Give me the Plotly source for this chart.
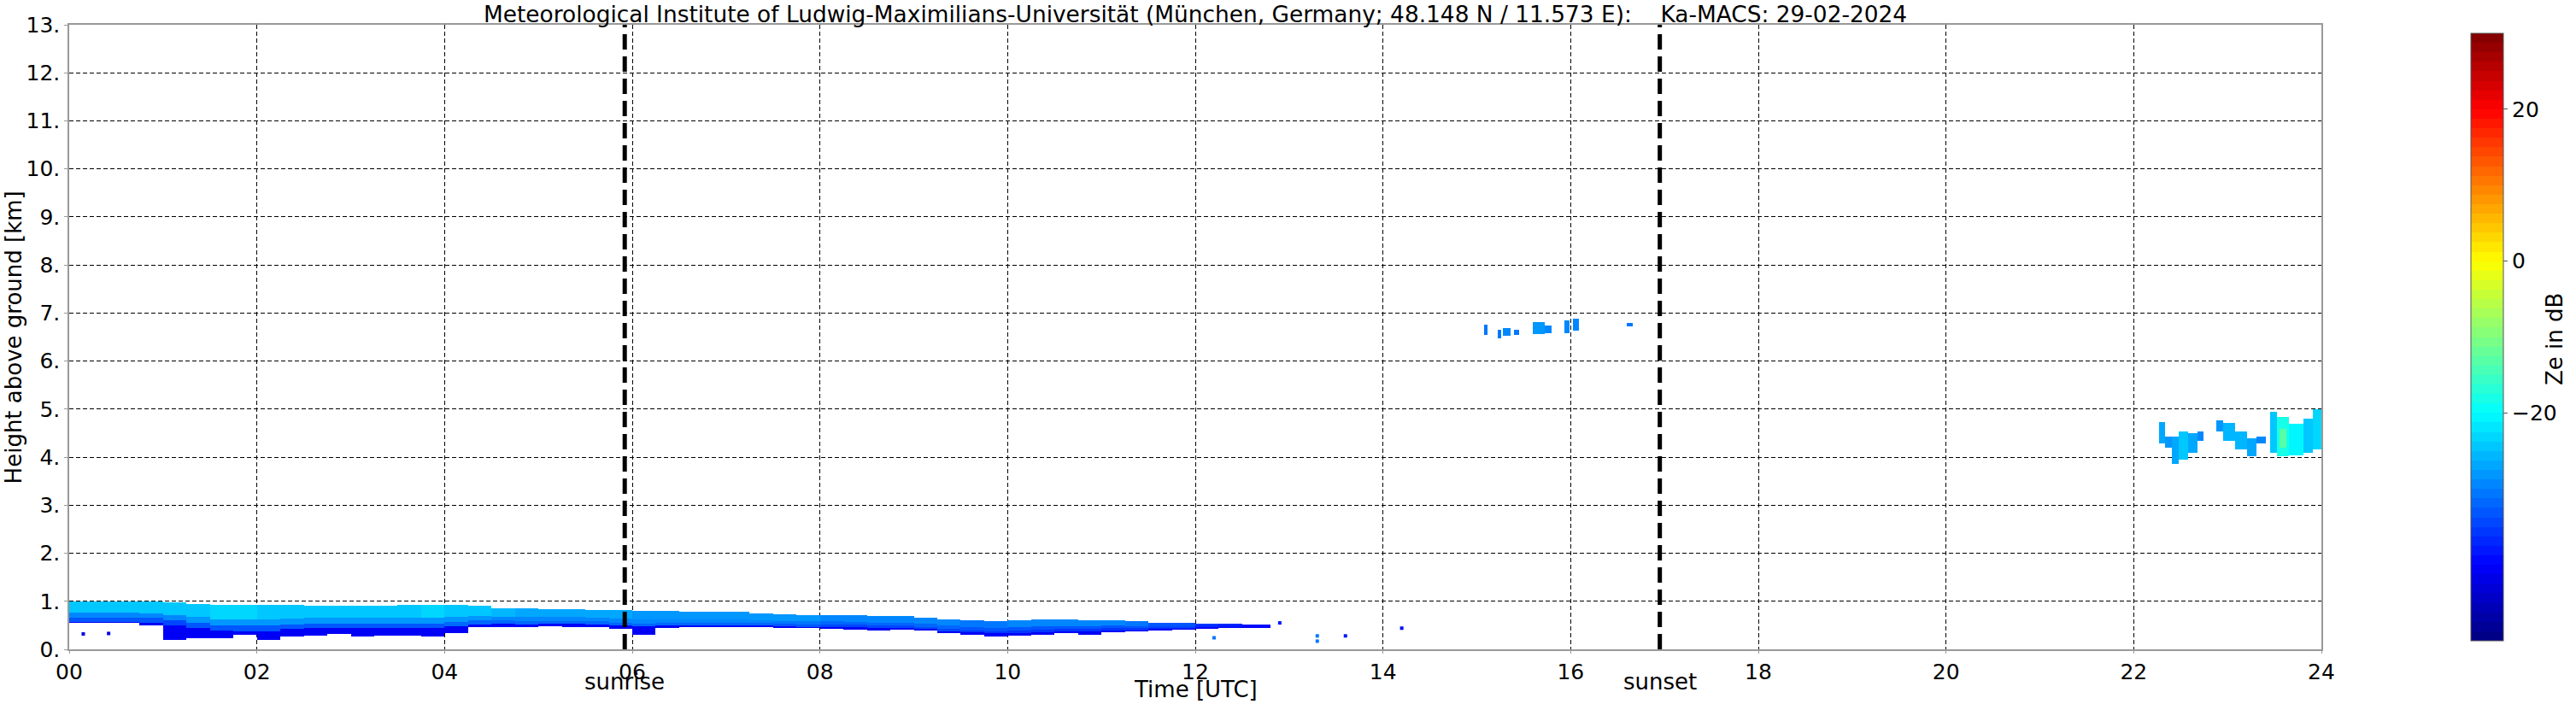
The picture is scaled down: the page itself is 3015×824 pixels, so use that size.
import numpy as np
import plotly.graph_objects as go

# ---------------- data ----------------
# Low stratus layer, one value per 15-min column (column edges in hours UTC)
lc_time = [0.0, 0.25, 0.5, 0.75, 1.0, 1.25, 1.5, 1.75, 2.0, 2.25, 2.5, 2.75,
           3.0, 3.25, 3.5, 3.75, 4.0, 4.25, 4.5, 4.75, 5.0, 5.25, 5.5, 5.75,
           6.0, 6.25, 6.5, 6.75, 7.0, 7.25, 7.5, 7.75, 8.0, 8.25, 8.5, 8.75,
           9.0, 9.25, 9.5, 9.75, 10.0, 10.25, 10.5, 10.75, 11.0, 11.25, 11.5, 11.75,
           12.0, 12.25, 12.5, 12.8]
lc_top = [0.99, 0.99, 0.99, 0.99, 0.98, 0.95, 0.92, 0.92, 0.92, 0.92, 0.91, 0.90,
          0.90, 0.91, 0.92, 0.92, 0.93, 0.90, 0.86, 0.85, 0.84, 0.84, 0.82, 0.81,
          0.80, 0.80, 0.79, 0.79, 0.78, 0.75, 0.73, 0.72, 0.72, 0.71, 0.70, 0.69,
          0.66, 0.63, 0.60, 0.59, 0.61, 0.62, 0.62, 0.61, 0.60, 0.58, 0.56, 0.55,
          0.54, 0.53, 0.52]
lc_base = [0.57, 0.57, 0.57, 0.56, 0.50, 0.45, 0.40, 0.38, 0.38, 0.42, 0.44, 0.44,
           0.45, 0.45, 0.44, 0.45, 0.48, 0.52, 0.53, 0.52, 0.53, 0.53, 0.52, 0.50,
           0.48, 0.50, 0.50, 0.50, 0.50, 0.50, 0.48, 0.47, 0.47, 0.46, 0.45, 0.44,
           0.42, 0.38, 0.35, 0.33, 0.34, 0.36, 0.37, 0.38, 0.40, 0.40, 0.42, 0.43,
           0.44, 0.45, 0.46]
lc_virga = [0.55, 0.55, 0.55, 0.50, 0.20, 0.24, 0.24, 0.30, 0.20, 0.26, 0.29, 0.32,
            0.26, 0.29, 0.28, 0.26, 0.34, 0.46, 0.47, 0.46, 0.48, 0.47, 0.47, 0.42,
            0.30, 0.45, 0.46, 0.46, 0.47, 0.47, 0.45, 0.44, 0.43, 0.41, 0.39, 0.41,
            0.39, 0.34, 0.30, 0.27, 0.28, 0.31, 0.33, 0.31, 0.36, 0.37, 0.39, 0.41,
            0.43, 0.44, 0.45]
lc_ze_top = [-25, -25, -25, -25, -25, -24, -23, -23, -24, -24, -24, -24,
             -24, -24, -24, -23, -24, -25, -26, -27, -27, -27, -27, -27,
             -28, -28, -28, -28, -28, -28, -28, -28, -29, -29, -29, -29,
             -30, -30, -31, -31, -30, -30, -30, -30, -30, -31, -33, -33,
             -36, -37, -39]
lc_ze_base = [-33, -33, -33, -33, -34, -33, -33, -33, -33, -33, -33, -33,
              -33, -33, -33, -33, -32, -32, -32, -32, -32, -32, -32, -32,
              -32, -32, -32, -32, -32, -32, -33, -33, -35, -35, -35, -35,
              -35, -35, -36, -36, -36, -36, -36, -36, -36, -36, -37, -37,
              -39, -39, -40]
lc_ze_virga = -41

# Mid/upper cloud patches: start, end (h), bottom, top (km), Ze (dB)
patch_t0 = [15.08, 15.22, 15.28, 15.40, 15.60, 15.72, 15.93, 16.02, 16.60,
            22.27, 22.33, 22.40, 22.48, 22.58, 22.68,
            22.88, 22.95, 23.08, 23.20, 23.30,
            23.45, 23.52, 23.65, 23.80, 23.90, 23.55]
patch_t1 = [15.11, 15.26, 15.36, 15.45, 15.72, 15.80, 15.99, 16.09, 16.66,
            22.33, 22.40, 22.48, 22.58, 22.68, 22.74,
            22.95, 23.08, 23.20, 23.30, 23.40,
            23.52, 23.65, 23.80, 23.90, 24.00, 23.62]
patch_bot = [6.55, 6.48, 6.52, 6.55, 6.56, 6.58, 6.58, 6.64, 6.72,
             4.30, 4.20, 3.85, 3.95, 4.10, 4.35,
             4.55, 4.35, 4.15, 4.02, 4.30,
             4.10, 4.02, 4.05, 4.10, 4.15, 4.20]
patch_top = [6.76, 6.66, 6.68, 6.66, 6.82, 6.74, 6.84, 6.88, 6.80,
             4.75, 4.45, 4.45, 4.55, 4.50, 4.55,
             4.78, 4.72, 4.55, 4.40, 4.45,
             4.95, 4.85, 4.70, 4.80, 5.00, 4.60]
patch_ze = [-31, -31, -30, -31, -28, -29, -30, -30, -31,
            -27, -28, -27, -25, -27, -29,
            -28, -26, -26, -27, -29,
            -25, -18, -21, -24, -23, -13]

# Isolated echoes
speck_t = [0.15, 0.42, 12.20, 12.90, 13.30, 13.30, 13.60, 14.20]
speck_z = [0.32, 0.33, 0.24, 0.55, 0.28, 0.17, 0.28, 0.44]
speck_ze = [-42, -42, -31, -38, -31, -31, -38, -40]

sunrise_h = 5.92
sunset_h = 16.95
x_ticks = [0, 2, 4, 6, 8, 10, 12, 14, 16, 18, 20, 22, 24]
x_ticklabels = ["00", "02", "04", "06", "08", "10", "12", "14", "16", "18", "20", "22", "24"]
y_ticks = list(range(0, 14))
y_ticklabels = [f"{v}." for v in y_ticks]
cb_ticks = [-20, 0, 20]
cb_ticklabels = ["\u221220", "0", "20"]
ze_min, ze_max = -50, 30

title_text = ("Meteorological Institute of Ludwig-Maximilians-Universit\u00e4t "
              "(M\u00fcnchen, Germany; 48.148 N / 11.573 E):    Ka-MACS: 29-02-2024")

# ---------------- colours (jet, discrete levels) ----------------
def jet(f):
    r = min(max(min(4 * f - 1.5, -4 * f + 4.5), 0), 1)
    g = min(max(min(4 * f - 0.5, -4 * f + 3.5), 0), 1)
    b = min(max(min(4 * f + 0.5, -4 * f + 2.5), 0), 1)
    return f"rgb({int(r*255)},{int(g*255)},{int(b*255)})"

nlev = 64
colorscale = []
for i in range(nlev):
    c = jet((i + 0.5) / nlev)
    colorscale.append([i / nlev, c])
    colorscale.append([(i + 1) / nlev, c])

# ---------------- rasterise ----------------
dz = 0.01
lc_y = np.round(np.arange(0.0, 1.06, dz), 4)
lc_yc = lc_y[:-1] + dz / 2
lc_z = np.full((len(lc_yc), len(lc_top)), np.nan)
for j in range(len(lc_top)):
    top, base, vir = lc_top[j], lc_base[j], lc_virga[j]
    upper = base + 0.45 * (top - base)
    lower = base + 0.2 * (top - base)
    for i, h in enumerate(lc_yc):
        if upper <= h < top:
            lc_z[i, j] = lc_ze_top[j]
        elif lower <= h < upper:
            lc_z[i, j] = (lc_ze_top[j] + lc_ze_base[j]) / 2
        elif base <= h < lower:
            lc_z[i, j] = lc_ze_base[j]
        elif vir <= h < base:
            lc_z[i, j] = lc_ze_virga

dt, dzp = 0.01, 0.02
p_x = np.round(np.arange(15.0, 24.0 + dt / 2, dt), 4)
p_y = np.round(np.arange(3.7, 7.0 + dzp / 2, dzp), 4)
p_xc = p_x[:-1] + dt / 2
p_yc = p_y[:-1] + dzp / 2
p_z = np.full((len(p_yc), len(p_xc)), np.nan)
for k in range(len(patch_ze)):
    xm = (p_xc >= patch_t0[k]) & (p_xc < patch_t1[k])
    ym = (p_yc >= patch_bot[k]) & (p_yc < patch_top[k])
    p_z[np.ix_(ym, xm)] = patch_ze[k]

def tolist(a):
    return [[None if np.isnan(v) else float(v) for v in row] for row in a]

fig = go.Figure()
fig.add_trace(go.Heatmap(x=lc_time, y=lc_y.tolist(), z=tolist(lc_z), coloraxis="coloraxis",
                         hoverongaps=False))
fig.add_trace(go.Heatmap(x=p_x.tolist(), y=p_y.tolist(), z=tolist(p_z), coloraxis="coloraxis",
                         hoverongaps=False))
fig.add_trace(go.Scatter(x=speck_t, y=speck_z, mode="markers",
                         marker=dict(symbol="square", size=4, color=speck_ze,
                                     coloraxis="coloraxis", line=dict(width=0)),
                         showlegend=False))

for xv in [sunrise_h, sunset_h]:
    fig.add_shape(type="line", x0=xv, x1=xv, y0=0, y1=13, xref="x", yref="y",
                  line=dict(color="black", width=5, dash="18px,8px"), layer="above")

FONT = "DejaVu Sans"

fig.update_layout(
    template="none",
    width=3015, height=824, autosize=False,
    margin=dict(l=81, r=298, t=29, b=64, pad=0, autoexpand=False),
    paper_bgcolor="white", plot_bgcolor="white",
    showlegend=False,
    coloraxis=dict(
        colorscale=colorscale, cmin=ze_min, cmax=ze_max,
        colorbar=dict(
            x=1.0626, xanchor="left", y=0.5, yanchor="middle",
            len=1.0, lenmode="fraction", thickness=38, thicknessmode="pixels",
            outlinewidth=1, outlinecolor="#555555",
            tickvals=cb_ticks, ticktext=cb_ticklabels, ticks="outside", ticklen=5,
            tickcolor="#555555",
            tickfont=dict(family=FONT, size=25, color="black"),
        ),
    ),
    xaxis=dict(
        range=[0, 24], tickvals=x_ticks, ticktext=x_ticklabels, automargin=False,
        showgrid=True, gridcolor="black", gridwidth=1.3, griddash="5px,3px",
        showline=True, linecolor="#999999", linewidth=1.5, mirror=True,
        ticks="outside", ticklen=3, tickcolor="#999999",
        tickfont=dict(family=FONT, size=25, color="black"),
        zeroline=False,
    ),
    yaxis=dict(
        range=[0, 13], tickvals=y_ticks, ticktext=y_ticklabels, automargin=False,
        showgrid=True, gridcolor="black", gridwidth=1.3, griddash="5px,3px",
        showline=True, linecolor="#999999", linewidth=1.5, mirror=True,
        ticks="outside", ticklen=4, tickcolor="#999999",
        tickfont=dict(family=FONT, size=25, color="black"),
        zeroline=False,
    ),
)

fig.add_annotation(text=title_text, xref="paper", yref="paper", x=0.5, y=1.0,
                   xanchor="center", yanchor="middle", yshift=13, showarrow=False,
                   font=dict(family=FONT, size=26.4, color="black"))
fig.add_annotation(text="Height above ground [km]", xref="paper", yref="paper",
                   x=-0.0247, y=0.5, xanchor="center", yanchor="middle", textangle=-90,
                   showarrow=False, font=dict(family=FONT, size=26, color="black"))
fig.add_annotation(text="Time [UTC]", xref="paper", yref="paper", x=0.5, y=0.0,
                   xanchor="center", yanchor="middle", yshift=-47, showarrow=False,
                   font=dict(family=FONT, size=26, color="black"))
fig.add_annotation(text="sunrise", xref="x", yref="paper", x=sunrise_h, y=0.0,
                   xanchor="center", yanchor="middle", yshift=-38, showarrow=False,
                   font=dict(family=FONT, size=26, color="black"))
fig.add_annotation(text="sunset", xref="x", yref="paper", x=sunset_h, y=0.0,
                   xanchor="center", yanchor="middle", yshift=-38, showarrow=False,
                   font=dict(family=FONT, size=26, color="black"))
fig.add_annotation(text="Ze in dB", xref="paper", yref="paper", x=1.1036, y=0.4966,
                   xanchor="center", yanchor="middle", textangle=-90, showarrow=False,
                   font=dict(family=FONT, size=26, color="black"))

fig.write_html("out.html", config={"displayModeBar": False},
               post_script="document.body.style.margin='0px';")
